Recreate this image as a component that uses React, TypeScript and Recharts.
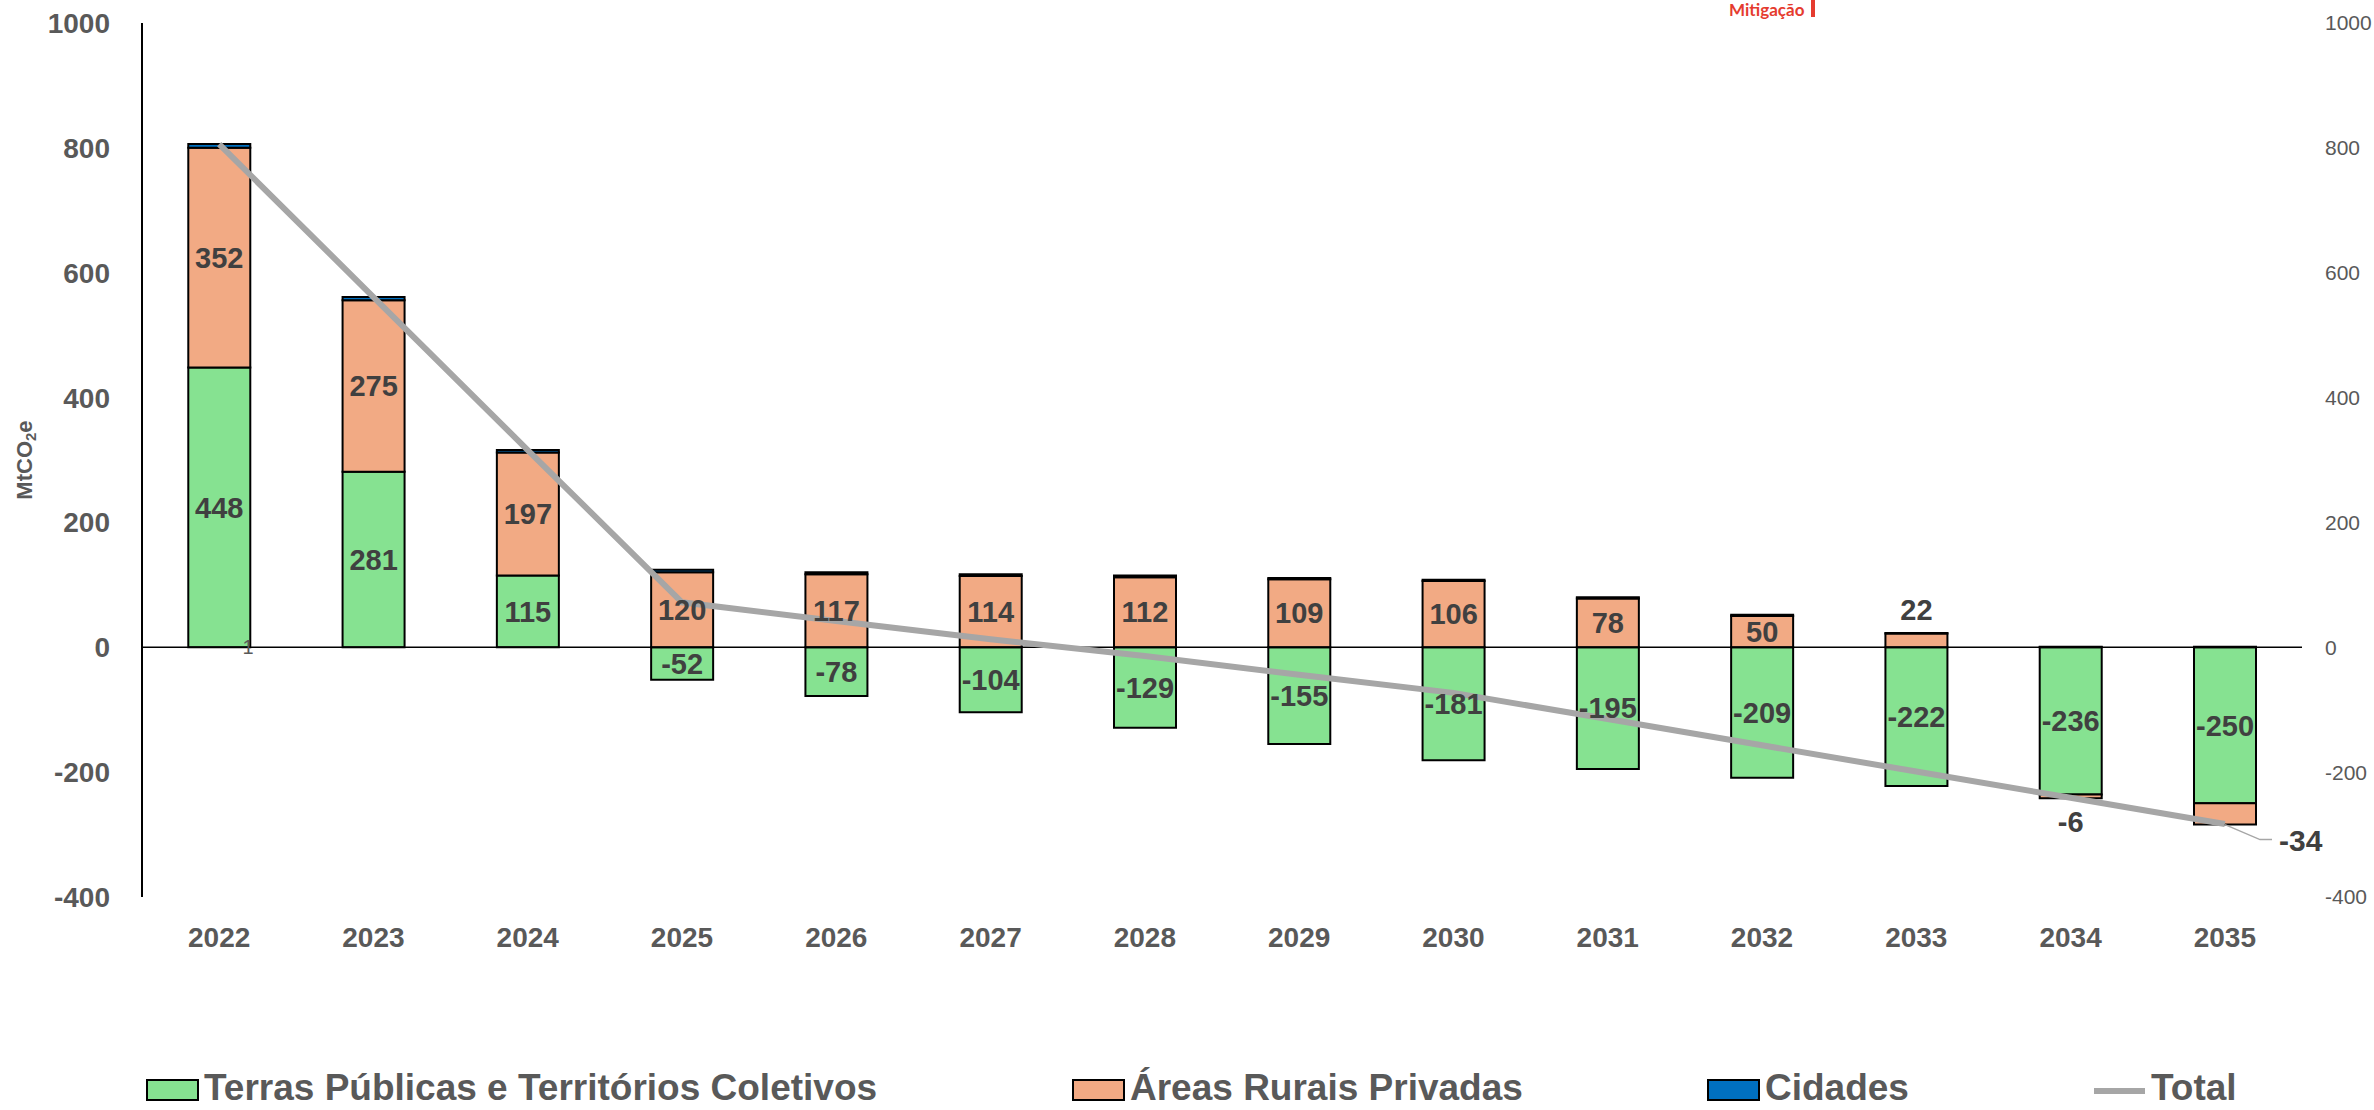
import { ComposedChart, Bar, Line, XAxis, YAxis, ReferenceLine, LabelList } from "recharts"

const years = ["2022", "2023", "2024", "2025", "2026", "2027", "2028", "2029", "2030", "2031", "2032", "2033", "2034", "2035"]
const terras = [448, 281, 115, -52, -78, -104, -129, -155, -181, -195, -209, -222, -236, -250]
const areas = [352, 275, 197, 120, 117, 114, 112, 109, 106, 78, 50, 22, -6, -34]
const cidades = [6, 5, 4, 4, 3, 3, 3, 2, 2, 2, 2, 1, 1, 1]
const total = [806, 561, 316, 72, 42, 13, -14, -44, -73, -115, -157, -199, -241, -283]
const yTicks = [-400, -200, 0, 200, 400, 600, 800, 1000]
const seriesNames = ["Terras Públicas e Territórios Coletivos", "Áreas Rurais Privadas", "Cidades", "Total"]

const GREEN = "#86E291"
const ORANGE = "#F2AA84"
const BLUE = "#0070C0"
const GREY_LINE = "#A6A6A6"
const AXIS_TEXT = "#595959"
const LABEL_TEXT = "#404040"

const data = years.map((year, i) => ({
  year,
  terras: terras[i],
  areas: areas[i],
  cidades: cidades[i],
  total: total[i],
}))

const labelStyle = { fill: LABEL_TEXT, fontSize: 29, fontWeight: 700 }

// small Áreas values get their label outside the bar, last one as a callout
function AreasLabel(props: any) {
  const vb = props.viewBox ?? props
  const { x, y, width, height } = vb
  const { value, index } = props
  const cx = x + width / 2
  const top = Math.min(y, y + height)
  const bottom = Math.max(y, y + height)
  const h = bottom - top

  if (index === years.length - 1) {
    return (
      <g>
        <polyline
          points={`${cx},${bottom} ${cx + 35},${bottom + 15} ${cx + 47},${bottom + 15}`}
          fill="none"
          stroke={GREY_LINE}
          strokeWidth={1.5}
        />
        <text x={cx + 54} y={bottom + 16} dominantBaseline="central" {...labelStyle} fontSize={30}>{value}</text>
      </g>
    )
  }
  if (h < 25) {
    return (
      <text x={cx} y={value >= 0 ? top - 24 : bottom + 24} textAnchor="middle" dominantBaseline="central" {...labelStyle}>
        {value}
      </text>
    )
  }
  return (
    <text x={cx} y={top + h / 2} textAnchor="middle" dominantBaseline="central" {...labelStyle}>{value}</text>
  )
}

function UnitLabel(props: any) {
  const vb = props.viewBox
  const cx = vb.x - 18
  const cy = vb.y + vb.height / 2
  return (
    <text
      x={cx}
      y={cy}
      transform={`rotate(-90, ${cx}, ${cy})`}
      textAnchor="middle"
      dominantBaseline="central"
      fill={AXIS_TEXT}
      fontSize={22}
      fontWeight={700}
    >
      MtCO
      <tspan fontSize={15} dy={6}>2</tspan>
      <tspan dy={-6}>e</tspan>
    </text>
  )
}

function LegendOverlay() {
  const swatchColors = [GREEN, ORANGE, BLUE]
  const itemX = [147, 1073, 1708, 2094]
  return (
    <svg width={2374} height={1110} style={{ position: "absolute", left: 0, top: 0, pointerEvents: "none" }}>
      {swatchColors.map((c, i) => (
        <rect key={i} x={itemX[i]} y={1080} width={51} height={20} fill={c} stroke="#000" strokeWidth={2} />
      ))}
      <line x1={itemX[3]} x2={itemX[3] + 51} y1={1091} y2={1091} stroke={GREY_LINE} strokeWidth={6} />
      {seriesNames.map((name, i) => (
        <text key={name} x={itemX[i] + 57} y={1100} fill={AXIS_TEXT} fontSize={37} fontWeight={700}>{name}</text>
      ))}

      {/* stray label near the 2022 base */}
      <text x={248} y={647} textAnchor="middle" dominantBaseline="central" fill={AXIS_TEXT} fontSize={20}>1</text>

      {/* cropped header */}
      <text x={1729} y={16} fill="#E53B2F" fontSize={17} fontWeight={700} fontFamily="Lato, sans-serif">Mitigação</text>
      <rect x={1811} y={0} width={4} height={17} fill="#E53B2F" />
    </svg>
  )
}

export default function App() {
  return (
    <div
      style={{
        position: "absolute",
        left: 0,
        top: 0,
        width: 2374,
        height: 1110,
        background: "#fff",
        fontFamily: "'Liberation Sans', Arial, sans-serif",
      }}
    >
      <ComposedChart
        width={2374}
        height={1110}
        data={data}
        stackOffset="sign"
        barCategoryGap="30%"
        margin={{ top: 23, right: 0, bottom: 153, left: 42 }}
      >
        <XAxis
          dataKey="year"
          axisLine={false}
          tickLine={false}
          tickSize={0}
          tickMargin={30}
          height={60}
          tick={{ fontSize: 28, fontWeight: 700, fill: AXIS_TEXT }}
        />
        <YAxis
          yAxisId="left"
          domain={[-400, 1000]}
          ticks={yTicks}
          width={100}
          axisLine={{ stroke: "#000", strokeWidth: 2 }}
          tickLine={false}
          tickSize={0}
          tickMargin={32}
          tick={{ fontSize: 28, fontWeight: 700, fill: AXIS_TEXT }}
          label={<UnitLabel />}
        />
        <YAxis
          yAxisId="right"
          orientation="right"
          domain={[-400, 1000]}
          ticks={yTicks}
          width={72}
          axisLine={false}
          tickLine={false}
          tickSize={0}
          tickMargin={23}
          tick={{ fontSize: 21, fill: AXIS_TEXT }}
        />
        <ReferenceLine yAxisId="left" y={0} stroke="#000" strokeWidth={1.5} />

        <Bar yAxisId="left" dataKey="terras" stackId="a" fill={GREEN} stroke="#000" strokeWidth={2} isAnimationActive={false}>
          <LabelList dataKey="terras" position="center" {...labelStyle} />
        </Bar>
        <Bar yAxisId="left" dataKey="areas" stackId="a" fill={ORANGE} stroke="#000" strokeWidth={2} isAnimationActive={false}>
          <LabelList dataKey="areas" content={<AreasLabel />} />
        </Bar>
        <Bar yAxisId="left" dataKey="cidades" stackId="a" fill={BLUE} stroke="#000" strokeWidth={2} isAnimationActive={false} />

        {/* invisible copy so the secondary axis has data and draws its ticks */}
        <Line
          yAxisId="right"
          dataKey="total"
          stroke="none"
          dot={false}
          activeDot={false}
          legendType="none"
          isAnimationActive={false}
        />
        <Line
          yAxisId="left"
          type="linear"
          dataKey="total"
          stroke={GREY_LINE}
          strokeWidth={6}
          dot={false}
          isAnimationActive={false}
        />
      </ComposedChart>
      <LegendOverlay />
    </div>
  )
}
